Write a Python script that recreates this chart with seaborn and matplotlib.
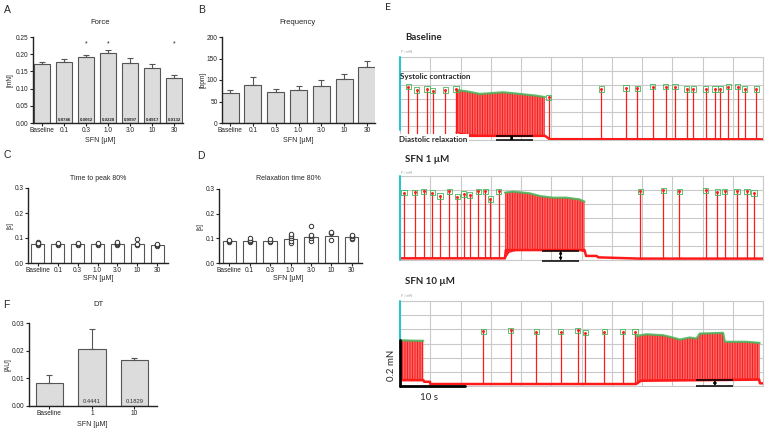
import numpy as np
import pandas as pd
import matplotlib
matplotlib.use("Agg")
import matplotlib.pyplot as plt
import seaborn as sns

sns.set_style("ticks")
plt.rcParams["font.family"] = ["Liberation Sans", "DejaVu Sans"]
plt.rcParams["hatch.linewidth"] = 0.7

# ---------------- data ----------------
conc = ["Baseline", "0.1", "0.3", "1.0", "3.0", "10", "30"]
force_mean = [0.171, 0.176, 0.192, 0.204, 0.174, 0.159, 0.130]
force_sem = [0.005, 0.009, 0.005, 0.008, 0.015, 0.012, 0.009]
force_p = ["", "0.8746", "0.0062", "0.0228", "0.9997", "0.4917", "0.0132"]
force_sig = [False, False, True, True, False, False, True]

freq_mean = [70, 89, 72, 77, 86, 103, 131]
freq_sem = [7, 17, 7, 9, 14, 11, 13]

ttp_mean = [0.078, 0.077, 0.077, 0.077, 0.077, 0.078, 0.071]
ttp_points = [[0.073, 0.078, 0.085, 0.080], [0.073, 0.076, 0.079], [0.074, 0.077, 0.080],
              [0.074, 0.077, 0.080], [0.072, 0.077, 0.081, 0.084], [0.072, 0.078, 0.095],
              [0.068, 0.072, 0.078]]

rt_mean = [0.088, 0.091, 0.090, 0.097, 0.107, 0.108, 0.105]
rt_points = [[0.084, 0.089, 0.093], [0.085, 0.090, 0.095, 0.100], [0.085, 0.090, 0.097],
             [0.082, 0.090, 0.100, 0.110, 0.118], [0.090, 0.100, 0.110, 0.115, 0.150],
             [0.092, 0.120, 0.125], [0.098, 0.103, 0.110, 0.115]]

dt_groups = ["Baseline", "1", "10"]
dt_mean = [0.0082, 0.0205, 0.0165]
dt_sem = [0.0031, 0.0073, 0.0008]
dt_p = ["", "0.4441", "0.1829"]

# Traces (panel E), x in grid columns (0-12), y in grid rows (0-6)
t1_base_x = [0.0, 1.85, 1.86, 4.79, 4.95, 12.0]
t1_base_y = [0.15, 0.15, 0.30, 0.30, 0.06, 0.05]
t1_spike_t = [0.27, 0.55, 0.89, 1.08, 1.50, 1.85, 4.92, 6.66, 7.47, 7.85, 8.35, 8.79, 9.09,
              9.48, 9.70, 10.11, 10.41, 10.59, 10.85, 11.16, 11.40, 11.78]
t1_spike_h = [3.86, 3.62, 3.69, 3.57, 3.62, 3.69, 3.10, 3.69, 3.76, 3.74, 3.86, 3.86, 3.86,
              3.69, 3.69, 3.69, 3.69, 3.69, 3.86, 3.86, 3.69, 3.69]
t1_burst_x = [1.85, 2.20, 2.64, 3.41, 3.96, 4.51, 4.79]
t1_burst_top = [3.62, 3.52, 3.33, 3.45, 3.33, 3.20, 3.10]
t1_burst_bot = [0.55, 0.40, 0.30, 0.30, 0.30, 0.30, 0.30]

t2_base_x = [0.0, 3.47, 3.50, 6.10, 6.15, 6.50, 6.55, 7.90, 12.0]
t2_base_y = [0.12, 0.12, 0.71, 0.71, 0.29, 0.29, 0.19, 0.10, 0.10]
t2_spike_t = [0.13, 0.49, 0.78, 1.07, 1.32, 1.63, 1.90, 2.10, 2.31, 2.59, 2.82, 2.99, 3.26,
              7.95, 8.71, 9.23, 10.11, 10.49, 10.74, 11.14, 11.47, 11.70]
t2_spike_h = [4.81, 4.83, 4.90, 4.81, 4.57, 4.90, 4.52, 4.71, 4.64, 4.90, 4.90, 4.36, 4.90,
              4.90, 4.98, 4.90, 4.98, 4.86, 4.90, 4.90, 4.90, 4.79]
t2_burst_x = [3.47, 3.60, 3.74, 3.90, 4.29, 4.62, 5.05, 5.49, 5.93, 6.10]
t2_burst_top = [4.81, 4.85, 4.88, 4.85, 4.76, 4.57, 4.45, 4.45, 4.33, 4.17]
t2_burst_bot = [0.15, 0.55, 0.65, 0.71, 0.71, 0.71, 0.71, 0.71, 0.71, 0.60]

t3_base_x = [0.0, 0.77, 0.80, 0.99, 1.00, 7.80, 7.95, 11.87, 11.90, 12.0]
t3_base_y = [0.42, 0.42, 0.30, 0.30, 0.14, 0.14, 0.37, 0.45, 0.19, 0.19]
t3_spike_t = [2.75, 3.66, 4.51, 5.31, 5.88, 6.12, 6.76, 7.36, 7.77]
t3_spike_h = [3.87, 3.94, 3.82, 3.82, 3.94, 3.77, 3.82, 3.82, 3.82]
t3a_burst_x = [0.02, 0.40, 0.77]
t3a_burst_top = [3.23, 3.20, 3.19]
t3a_burst_bot = [0.42, 0.42, 0.42]
t3b_burst_x = [7.82, 8.00, 8.15, 8.70, 8.92, 9.25, 9.58, 9.80, 9.91, 10.68, 10.74, 11.45, 11.89]
t3b_burst_top = [3.51, 3.60, 3.65, 3.58, 3.47, 3.28, 3.42, 3.35, 3.70, 3.75, 3.12, 3.12, 3.04]
t3b_burst_bot = [0.14, 0.37, 0.40, 0.42, 0.42, 0.42, 0.42, 0.44, 0.44, 0.45, 0.45, 0.47, 0.47]

# ---------------- layout helpers ----------------
W, H = 767, 430
fig = plt.figure(figsize=(W / 100, H / 100), dpi=100)


def rect(l, t, r, b):
    return [l / W, 1 - b / H, (r - l) / W, (b - t) / H]


def ftext(x, y, s, **kw):
    fig.text(x / W, 1 - y / H, s, **kw)


EDGE = "#555555"
GREY = "#dcdcdc"
TICK_FS = 4.7


def style_axes(ax, ylim, yticks, fmt, xlim):
    ax.set_ylim(*ylim)
    ax.set_yticks(yticks)
    ax.set_yticklabels([fmt.format(v) for v in yticks])
    ax.set_xlim(*xlim)
    ax.tick_params(axis="both", labelsize=TICK_FS, length=2, width=0.8, pad=1.2, colors="#222222")
    for s in ["top", "right"]:
        ax.spines[s].set_visible(False)
    for s in ["left", "bottom"]:
        ax.spines[s].set_linewidth(1.0)
        ax.spines[s].set_color("#222222")
    ax.set_xlabel("")
    ax.set_ylabel("")


def bar_panel(ax, cats, means, sems, face, bw):
    df = pd.DataFrame({"c": cats, "v": means})
    sns.barplot(data=df, x="c", y="v", order=cats, color=face, saturation=1,
                edgecolor=EDGE, linewidth=0.8, width=bw, errorbar=None, ax=ax)
    if sems is not None:
        ax.errorbar(np.arange(len(cats)), means, yerr=[np.zeros(len(cats)), sems],
                    fmt="none", ecolor=EDGE, elinewidth=0.8, capsize=2.5, capthick=0.8, zorder=1)


# ---------------- Panel A ----------------
axA = fig.add_axes(rect(33, 37, 183, 123))
bar_panel(axA, conc, force_mean, force_sem, GREY, 0.75)
style_axes(axA, (0, 0.25), [0, 0.05, 0.10, 0.15, 0.20, 0.25], "{:.2f}", (-0.42, 6.4))
for i, (p, s) in enumerate(zip(force_p, force_sig)):
    if p:
        axA.text(i, 0.003, p, ha="center", va="bottom", fontsize=3.2, fontweight="bold")
    if s:
        axA.text(i, 0.231, "*", ha="center", va="center", fontsize=5)
ftext(100, 22, "Force", ha="center", va="center", fontsize=5.5)
ftext(10, 80, "[mN]", ha="center", va="center", rotation=90, fontsize=4.7)
ftext(100, 140, "SFN [µM]", ha="center", va="center", fontsize=5)
ftext(7, 10, "A", ha="center", va="center", fontsize=7.5)

# ---------------- Panel B ----------------
axB = fig.add_axes(rect(222, 37, 375, 123))
bar_panel(axB, conc, freq_mean, freq_sem, GREY, 0.75)
style_axes(axB, (0, 200), [0, 50, 100, 150, 200], "{:.0f}", (-0.35, 6.35))
ftext(298, 23, "Frequency", ha="center", va="center", fontsize=5.5)
ftext(203, 80, "[bpm]", ha="center", va="center", rotation=90, fontsize=4.7)
ftext(298, 140, "SFN [µM]", ha="center", va="center", fontsize=5)
ftext(202, 10, "B", ha="center", va="center", fontsize=7.5)


# ---------------- Panels C and D ----------------
def points_df(cats, pts):
    rows = []
    for c, vals in zip(cats, pts):
        for v in vals:
            rows.append({"c": c, "v": v})
    return pd.DataFrame(rows)


axC = fig.add_axes(rect(28, 188, 168, 263))
bar_panel(axC, conc, ttp_mean, None, "white", 0.65)
sns.stripplot(data=points_df(conc, ttp_points), x="c", y="v", order=conc, jitter=False,
              color="white", edgecolor="#333333", linewidth=0.7, size=3.2, ax=axC, zorder=3)
style_axes(axC, (0, 0.3), [0.0, 0.1, 0.2, 0.3], "{:.1f}", (-0.5, 6.55))
ftext(98, 178, "Time to peak 80%", ha="center", va="center", fontsize=5)
ftext(10, 225, "[s]", ha="center", va="center", rotation=90, fontsize=4.7)
ftext(98, 278, "SFN [µM]", ha="center", va="center", fontsize=5)
ftext(7, 155, "C", ha="center", va="center", fontsize=7.5)

axD = fig.add_axes(rect(219, 189, 362, 263))
bar_panel(axD, conc, rt_mean, None, "white", 0.65)
sns.stripplot(data=points_df(conc, rt_points), x="c", y="v", order=conc, jitter=False,
              color="white", edgecolor="#333333", linewidth=0.7, size=3.2, ax=axD, zorder=3)
style_axes(axD, (0, 0.3), [0.0, 0.1, 0.2, 0.3], "{:.1f}", (-0.5, 6.5))
ftext(288, 178, "Relaxation time 80%", ha="center", va="center", fontsize=5)
ftext(200, 226, "[s]", ha="center", va="center", rotation=90, fontsize=4.7)
ftext(288, 278, "SFN [µM]", ha="center", va="center", fontsize=5)
ftext(201, 156, "D", ha="center", va="center", fontsize=7.5)

# ---------------- Panel F ----------------
axF = fig.add_axes(rect(29, 323, 157, 406))
bar_panel(axF, dt_groups, dt_mean, dt_sem, GREY, 0.65)
style_axes(axF, (0, 0.03), [0.00, 0.01, 0.02, 0.03], "{:.2f}", (-0.48, 2.53))
for i, p in enumerate(dt_p):
    if p:
        axF.text(i, 0.0008, p, ha="center", va="bottom", fontsize=4.2, color="#333333")
ftext(98, 304, "DT", ha="center", va="center", fontsize=5.5)
ftext(8, 365, "[AU]", ha="center", va="center", rotation=90, fontsize=4.7)
ftext(92, 425, "SFN [µM]", ha="center", va="center", fontsize=5)
ftext(6, 305, "F", ha="center", va="center", fontsize=7.5)

# ---------------- Panel E ----------------
RED = "#ff1a1a"
GREEN = "#47b559"
CYAN = "#1fc4d4"
EFONT = ["Lato", "DejaVu Sans"]


def trace_axes(box, cyan_low):
    ax = fig.add_axes(rect(*box))
    ax.set_xlim(0, 12)
    ax.set_ylim(0, 6)
    ax.set_xticks(range(13))
    ax.set_yticks(range(7))
    ax.grid(True, color="#c9c9c9", linewidth=0.8)
    ax.tick_params(length=0, labelbottom=False, labelleft=False)
    for s in ax.spines.values():
        s.set_color("#c9c9c9")
        s.set_linewidth(0.8)
    ax.spines["left"].set_visible(False)
    ax.plot([0, 0], [cyan_low, 6], color=CYAN, lw=1.4, clip_on=False, zorder=5)
    return ax


def draw_trace(ax, bx, by, st, sh, bursts):
    sns.lineplot(x=bx, y=by, color=RED, lw=1.8, ax=ax, sort=False, zorder=3)
    base_at = np.interp(st, bx, by)
    ax.vlines(st, base_at, sh, color=RED, lw=0.9, zorder=3)
    for xs, top, bot in bursts:
        ax.fill_between(xs, bot, top, facecolor="#f28c8c", edgecolor=RED, hatch="|" * 10,
                        linewidth=0, zorder=2)
        ax.plot(xs, top, color=GREEN, lw=1.6, alpha=0.85, zorder=4)
        ax.plot(xs, bot, color=RED, lw=1.0, zorder=4)
    sns.scatterplot(x=st, y=sh, marker="s", s=14, facecolor="none", edgecolor=GREEN,
                    linewidth=0.6, ax=ax, zorder=5)
    ax.scatter(st, sh, s=1.2, color=RED, zorder=6)


def bracket(ax, x0, x1, y_hi, y_lo, xa):
    ax.hlines([y_hi, y_lo], x0, x1, color="black", lw=1.1, clip_on=False, zorder=7)
    ax.annotate("", xy=(xa, y_lo), xytext=(xa, y_hi),
                arrowprops=dict(arrowstyle="<|-|>", color="black", lw=0.8,
                                mutation_scale=4, shrinkA=0, shrinkB=0),
                annotation_clip=False, zorder=7)


# Trace 1 - Baseline
ax1 = trace_axes((400, 57, 763, 140), 0.7)
draw_trace(ax1, t1_base_x, t1_base_y, t1_spike_t, t1_spike_h,
           [(t1_burst_x, t1_burst_top, t1_burst_bot)])
bracket(ax1, 3.16, 4.40, 0.29, 0.0, 3.69)
ftext(405, 38, "Baseline", ha="left", va="center", fontsize=7, fontweight="bold", family=EFONT)
ftext(401, 52, "F / mN", ha="left", va="center", fontsize=2.5, color="#999999", family=EFONT)
ftext(400, 77, "Systolic contraction", ha="left", va="center", fontsize=5.8,
      fontweight="bold", family=EFONT)
ftext(399, 139, "Diastolic relaxation", ha="left", va="center", fontsize=5.8,
      fontweight="bold", family=EFONT,
      bbox=dict(facecolor="white", edgecolor="none", pad=0.8), zorder=10)

# Trace 2 - SFN 1 uM
ax2 = trace_axes((400, 176, 763, 260), 0.0)
draw_trace(ax2, t2_base_x, t2_base_y, t2_spike_t, t2_spike_h,
           [(t2_burst_x, t2_burst_top, t2_burst_bot)])
bracket(ax2, 4.69, 5.93, 0.67, -0.05, 5.31)
ftext(405, 159, "SFN 1 µM", ha="left", va="center", fontsize=7, fontweight="bold", family=EFONT)
ftext(401, 173, "F / mN", ha="left", va="center", fontsize=2.5, color="#999999", family=EFONT)

# Trace 3 - SFN 10 uM
ax3 = trace_axes((400, 301, 763, 386), 3.28)
draw_trace(ax3, t3_base_x, t3_base_y, t3_spike_t, t3_spike_h,
           [(t3a_burst_x, t3a_burst_top, t3a_burst_bot),
            (t3b_burst_x, t3b_burst_top, t3b_burst_bot)])
bracket(ax3, 9.80, 11.01, 0.42, 0.0, 10.41)
ax3.plot([0, 0], [0, 3.28], color="black", lw=2.0, clip_on=False, zorder=8)
ax3.plot([0, 2.15], [0, 0], color="black", lw=2.0, clip_on=False, zorder=8)
ftext(405, 281, "SFN 10 µM", ha="left", va="center", fontsize=7, fontweight="bold", family=EFONT)
ftext(401, 296, "F / mN", ha="left", va="center", fontsize=2.5, color="#999999", family=EFONT)
ftext(392, 365, "0.2 mN", ha="center", va="center", rotation=90, fontsize=7, family=EFONT)
ftext(429, 397, "10 s", ha="center", va="center", fontsize=7, family=EFONT)

ftext(388, 7, "E", ha="center", va="center", fontsize=7.5, family=EFONT)

fig.savefig("out.png", dpi=100)
